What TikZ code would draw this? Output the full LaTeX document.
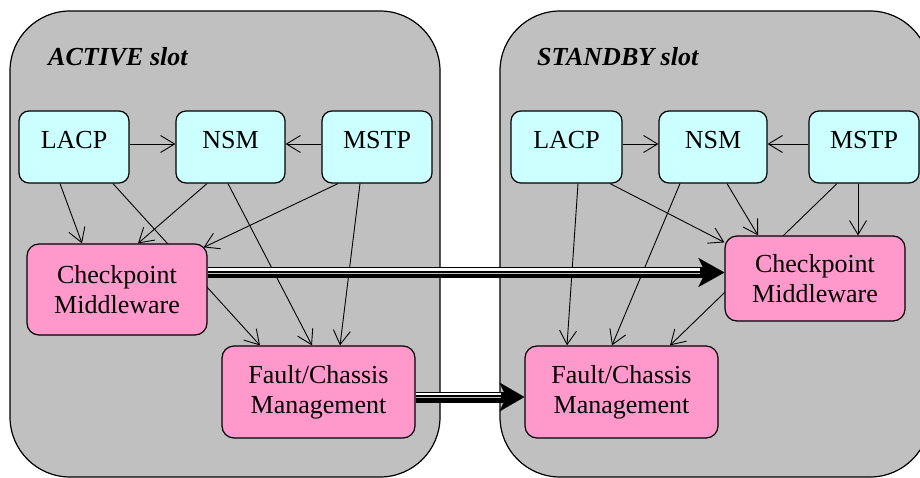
\documentclass[tikz,border=0pt]{standalone}
\usepackage{fontspec}
\setmainfont{Liberation Serif}
\usetikzlibrary{arrows.meta}
\pgfdeclarelayer{slots}
\pgfdeclarelayer{links}
\pgfsetlayers{slots,links,main}
\definecolor{slotgray}{HTML}{C0C0C0}
\definecolor{boxcyan}{HTML}{CCFFFF}
\definecolor{boxpink}{HTML}{FF99CC}
\begin{document}
\begin{tikzpicture}[x=1pt,y=-1pt,
  slot/.style={draw=black,line width=1.2pt,fill=slotgray,rounded corners=60pt},
  modbox/.style={draw=black,line width=1.2pt,fill=boxcyan,rounded corners=10pt,minimum height=72pt,inner sep=0pt,text height=18pt,text depth=14pt,font=\fontsize{26}{30}\selectfont},
  corebox/.style={draw=black,line width=1.2pt,fill=boxpink,rounded corners=12pt,inner sep=0pt,align=center,font=\fontsize{26}{30}\selectfont},
  slotlabel/.style={anchor=west,inner sep=0pt,font=\fontsize{26}{30}\selectfont\bfseries\itshape},
  link/.style={draw=black,line width=0.9pt,-{Straight Barb[length=14pt,width=17pt]}},
  bigarrow/.style={line width=11pt,-{Stealth[length=#1,width=29pt,inset=7pt,line width=0.1pt]}},
  stripe/.style={line width=2.5pt,white},
  stripetwo/.style={line width=1pt,slotgray}
]
\useasboundingbox (0,0) rectangle (920,478);
\clip (0,0) rectangle (920,478);

\begin{pgfonlayer}{slots}
\draw[slot] (10,11) rectangle (440,477);
\draw[slot] (500,11) rectangle (930,477);
\end{pgfonlayer}

\node[slotlabel] (actLbl) at (48,57) {ACTIVE slot};
\node[slotlabel] (stbLbl) at (537,57) {STANDBY slot};

% left slot
\node[modbox,minimum width=110pt] (lacpL) at (74,147) {LACP};
\node[modbox,minimum width=109pt] (nsmL) at (230.5,147) {NSM};
\node[modbox,minimum width=110pt] (mstpL) at (377,147) {MSTP};
\node[corebox,minimum width=180pt,minimum height=91pt] (cpL) at (117,289.5) {Checkpoint\\Middleware};
\node[corebox,minimum width=193pt,minimum height=92pt] (fcL) at (318.5,392) {Fault/Chassis\\Management};

% right slot
\node[modbox,minimum width=111pt] (lacpR) at (566.5,147) {LACP};
\node[modbox,minimum width=108pt] (nsmR) at (713,147) {NSM};
\node[modbox,minimum width=110pt] (mstpR) at (864,147) {MSTP};
\node[corebox,minimum width=180pt,minimum height=85pt] (cpR) at (815,278.5) {Checkpoint\\Middleware};
\node[corebox,minimum width=193pt,minimum height=92pt] (fcR) at (621.5,392) {Fault/Chassis\\Management};

\begin{pgfonlayer}{links}
\draw[link] ([yshift=3]lacpL.east) -- ([yshift=3]nsmL.west);
\draw[link] ([yshift=3]mstpL.west) -- ([yshift=3]nsmL.east);
\draw[link] ([xshift=-14]lacpL.south) -- ([xshift=-35]cpL.north);
\draw[link] ([xshift=39]lacpL.south) -- ([xshift=-58.5]fcL.north);
\draw[link] ([xshift=-23.5]nsmL.south) -- ([xshift=21]cpL.north);
\draw[link] ([xshift=-2.5]nsmL.south) -- ([xshift=-6.5]fcL.north);
\draw[link] ([xshift=-39]mstpL.south) -- ([xshift=-4,yshift=-4]cpL.north east);
\draw[link] ([xshift=-17]mstpL.south) -- ([xshift=21.5]fcL.north);

\draw[link] ([yshift=3]lacpR.east) -- ([yshift=3]nsmR.west);
\draw[link] ([yshift=3]mstpR.west) -- ([yshift=3]nsmR.east);
\draw[link] ([xshift=11.5]lacpR.south) -- ([xshift=-54.5]fcR.north);
\draw[link] ([xshift=43.5]lacpR.south) -- ([yshift=-7]cpR.north west);
\draw[link] ([xshift=-33]nsmR.south) -- ([xshift=-9.5]fcR.north);
\draw[link] ([xshift=14]nsmR.south) -- ([xshift=-57]cpR.north);
\draw[link] ([xshift=-27]mstpR.south) -- ([xshift=48.5]fcR.north);
\draw[link] ([xshift=-6]mstpR.south) -- ([xshift=43]cpR.north);
\end{pgfonlayer}

% replication arrows
\coordinate (aS) at ([yshift=17]cpL.east);
\coordinate (aE) at ([yshift=6]cpR.west);
\draw[bigarrow=26pt] (aS) -- (aE);
\draw[stripe] ([yshift=3.25]aS) -- ([xshift=-24,yshift=3.25]aE);
\draw[stripetwo] ([yshift=-0.5]aS) -- ([xshift=-24,yshift=-0.5]aE);

\coordinate (bS) at ([yshift=-5]fcL.east);
\coordinate (bE) at ([yshift=-5]fcR.west);
\draw[bigarrow=25pt] (bS) -- (bE);
\draw[stripe] ([yshift=3.25]bS) -- ([xshift=-23,yshift=3.25]bE);
\draw[stripetwo] ([yshift=-0.5]bS) -- ([xshift=-23,yshift=-0.5]bE);
\end{tikzpicture}
\end{document}
